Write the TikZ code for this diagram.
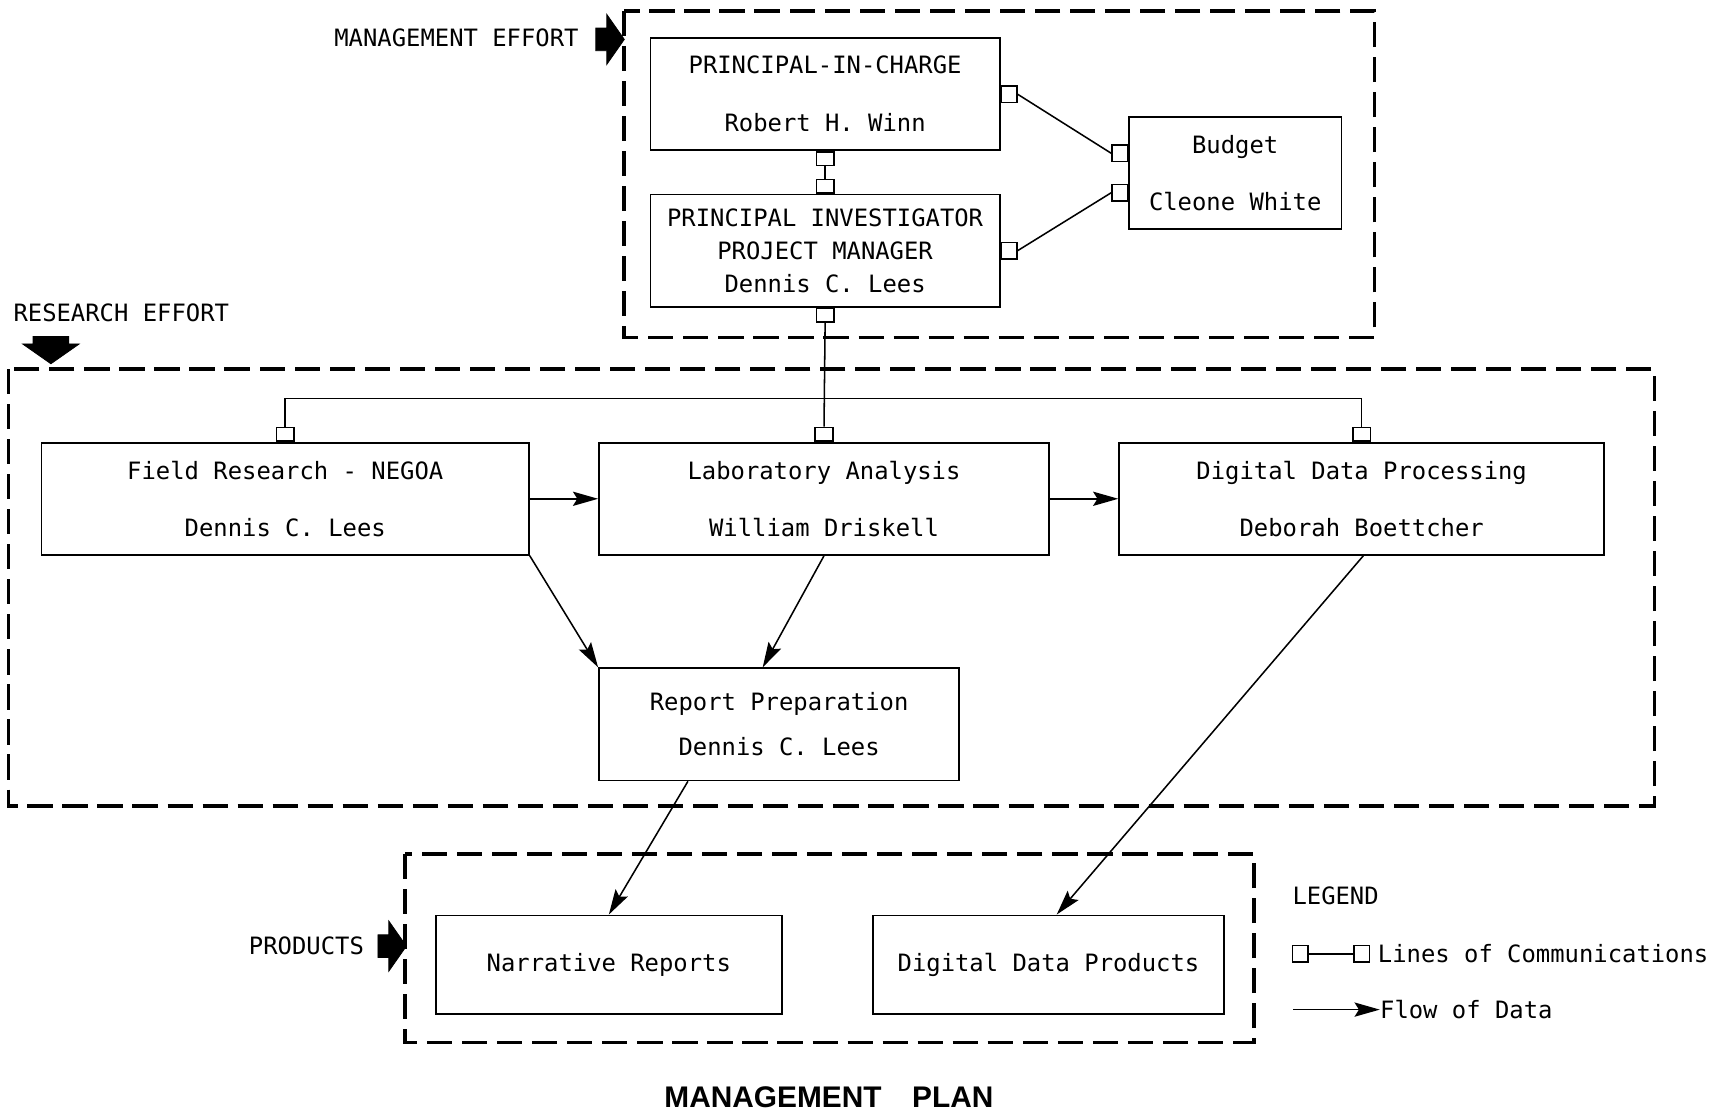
\documentclass[tikz,border=0pt]{standalone}
\usepackage{fontspec}
\setmainfont{DejaVu Sans Mono}
\newfontfamily\titlefont{Liberation Sans}
\usetikzlibrary{arrows.meta,positioning,shapes.arrows,calc}
\newcommand{\boxfont}{\fontsize{12.4pt}{17pt}\selectfont}
\tikzset{
  unitbox/.style={draw, line width=0.9pt, align=center, minimum height=2.05cm, inner sep=2pt, font=\boxfont},
  port/.style={draw, line width=0.8pt, fill=white, minimum width=0.32cm, minimum height=0.25cm, inner sep=0},
  sideport/.style={port, minimum width=0.28cm, minimum height=0.3cm},
  comm/.style={line width=0.8pt},
  flow/.style={-{Stealth[length=0.46cm,width=0.26cm,inset=0.08cm]}, line width=0.8pt},
  group/.style={line width=1.8pt, dash pattern=on 0.46cm off 0.18cm},
  effort/.style={single arrow, fill=black, draw, minimum width=0.9cm, minimum height=0.52cm, single arrow head extend=0.25cm, single arrow tip angle=110, inner xsep=0, inner ysep=0.2cm},
  tag/.style={font=\boxfont, anchor=west, inner sep=0}
}
\begin{document}
\begin{tikzpicture}[x=1cm,y=1cm]
  \useasboundingbox (0,0) rectangle (31.36,20.38);
  % effort groups
  \draw[group] (11.4,20.18) rectangle (25.1,14.22);
  \draw[group] (0.16,13.64) rectangle (30.22,5.66);
  \draw[group] (7.4,4.78) rectangle (22.9,1.34);
  \node[tag] (mgmt) at (6.1,19.68) {MANAGEMENT EFFORT};
  \node[effort] (mgmtarrow) at (11.07,19.66) {};
  \node[tag] (research) at (0.24,14.66) {RESEARCH EFFORT};
  \node[effort, rotate=-90, minimum width=1.02cm, inner ysep=0.32cm, single arrow head extend=0.19cm, minimum height=0.5cm] (researcharrow) at (0.93,14.1) {};
  \node[tag] (products) at (4.54,3.1) {PRODUCTS};
  \node[effort] (productsarrow) at (7.09,3.1) {};
  % management
  \node[unitbox, minimum width=6.38cm] (pic) at (15.07,18.66) {PRINCIPAL-IN-CHARGE\\[13pt]Robert H. Winn};
  \node[unitbox, minimum width=6.38cm] (pi) at (15.07,15.80) {PRINCIPAL INVESTIGATOR\\PROJECT MANAGER\\Dennis C. Lees};
  \node[unitbox, minimum width=3.88cm] (budget) at (22.56,17.22) {Budget\\[12.6pt]Cleone White};
  % research
  \node[unitbox, minimum width=8.9cm] (field) at (5.21,11.27) {Field Research - NEGOA\\[12.6pt]Dennis C. Lees};
  \node[unitbox, minimum width=8.22cm] (lab) at (15.05,11.27) {Laboratory Analysis\\[12.6pt]William Driskell};
  \node[unitbox, minimum width=8.86cm] (ddp) at (24.87,11.27) {Digital Data Processing\\[12.6pt]Deborah Boettcher};
  \node[unitbox, minimum width=6.58cm] (report) at (14.23,7.15) {Report Preparation\\[6.3pt]Dennis C. Lees};
  % products
  \node[unitbox, minimum width=6.32cm, minimum height=1.8cm] (narr) at (11.12,2.76) {Narrative Reports};
  \node[unitbox, minimum width=6.42cm, minimum height=1.8cm] (ddprod) at (19.15,2.76) {Digital Data Products};
  % lines of communications
  \node[port, anchor=north] (picS) at (pic.south) {};
  \node[port, anchor=south] (piN) at (pi.north) {};
  \node[port, anchor=north] (piS) at (pi.south) {};
  \node[sideport, anchor=west] (picE) at (pic.east) {};
  \node[sideport, anchor=west] (piE) at (pi.east) {};
  \node[sideport, anchor=east] (budA) at ([yshift=0.36cm]budget.west) {};
  \node[sideport, anchor=east] (budB) at ([yshift=-0.36cm]budget.west) {};
  \node[port, anchor=south] (fieldN) at (field.north) {};
  \node[port, anchor=south] (labN) at (lab.north) {};
  \node[port, anchor=south] (ddpN) at (ddp.north) {};
  \coordinate (bus) at (0,13.1);
  \draw[comm] (picS.south) -- (piN.north);
  \draw[comm] (picE.east) -- (budA.west);
  \draw[comm] (piE.east) -- (budB.west);
  \draw[comm] (piS.south) -- (labN.north);
  \draw[comm] (fieldN.north) -- (fieldN.north |- bus) -- (ddpN.north |- bus) -- (ddpN.north);
  % flow of data
  \draw[flow] (field.east) -- (lab.west);
  \draw[flow] (lab.east) -- (ddp.west);
  \draw[flow] (field.south east) -- (report.north west);
  \draw[flow] (lab.south) -- ([xshift=-0.3cm]report.north);
  \draw[flow] ([xshift=1.64cm]report.south west) -- (narr.north);
  \draw[flow] ([xshift=0.03cm]ddp.south) -- ([xshift=0.15cm]ddprod.north);
  % legend
  \node[tag] (legend) at (23.6,4.02) {LEGEND};
  \node[sideport] (lgA) at (23.75,2.96) {};
  \node[sideport] (lgB) at (24.87,2.96) {};
  \node[tag] (lgcomm) at (25.16,2.96) {Lines of Communications};
  \draw[comm] (lgA.east) -- (lgB.west);
  \coordinate (lgF) at (23.62,1.94);
  \node[tag] (lgflow) at (25.2,1.94) {Flow of Data};
  \draw[flow] (lgF) -- (lgflow.west);
  \node[font=\titlefont\bfseries\fontsize{15.5pt}{18pt}\selectfont] (title) at (15.14,0.34) {MANAGEMENT\hspace{0.56cm}PLAN};
\end{tikzpicture}
\end{document}
